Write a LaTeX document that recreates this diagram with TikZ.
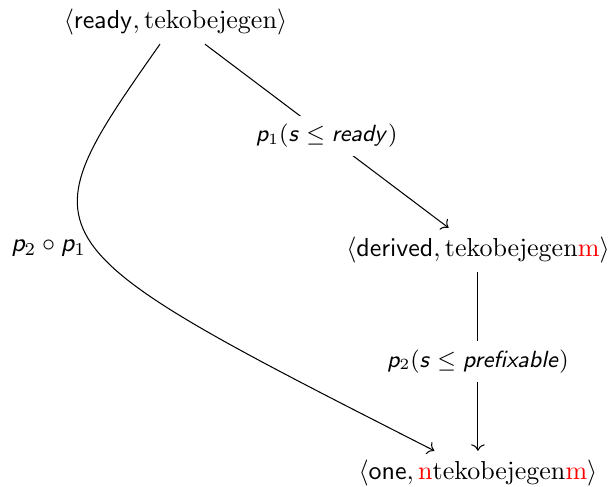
\documentclass[tikz,border=0pt]{standalone}
\usepackage{amsmath}
\usepackage{amssymb}
\usepackage{tikz}
\usetikzlibrary{arrows.meta}
\DeclareMathAlphabet{\mathsfit}{OT1}{cmss}{m}{sl}
\newcommand{\red}[1]{\textcolor{red}{#1}}

\begin{document}
\begin{tikzpicture}[>={To},every node/.style={inner sep=0.333em},lab/.style={fill=white,font=\small}]
	\useasboundingbox (0,0) rectangle (8.261,-6.584);

	\node (ready) at (2.373,-0.297) {$\langle \mathsf{ready}, \mathrm{tekobejegen}\rangle$};
	\node (derived) at (6.462,-3.380) {$\langle \mathsf{derived}, \mathrm{tekobejegen\red{m}}\rangle$};
	\node (one) at (6.462,-6.395) {$\langle \mathsf{one}, \mathrm{\red{n}tekobejegen\red{m}}\rangle$};
	\coordinate (bend) at (0.297,-3.258);

	\draw[->] (ready) -- node[lab] {$\mathsfit{p}_1(\mathsfit{s} \leq \mathsfit{ready})$} (derived);
	\draw[->] (derived) -- node[lab] {$\mathsfit{p}_2(\mathsfit{s} \leq \mathsfit{prefixable})$} (one);
	\draw[->] (ready) .. controls (bend) and (bend) .. node[pos=0.52,left] {$\mathsfit{p}_2 \circ \mathsfit{p}_1$} (one);
\end{tikzpicture}
\end{document}
